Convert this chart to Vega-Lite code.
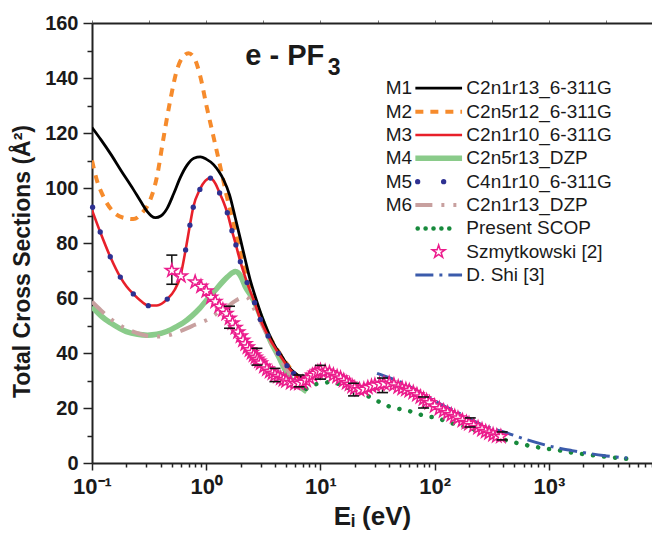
{
"$schema": "https://vega.github.io/schema/vega-lite/v6.json",
"width": 560, "height": 440,
"autosize": {"type": "none"},
"padding": {"left": 92, "top": 23, "right": 0, "bottom": 71},
"background": "white",
"config": {"view": {"stroke": null}, "font": "Liberation Sans",
  "axis": {"labelFont": "Liberation Sans", "titleFont": "Liberation Sans", "labelColor": "#1a1a1a", "titleColor": "#1a1a1a", "domainColor": "#222", "tickColor": "#222", "grid": false}},
"resolve": {"axis": {"x": "independent", "y": "independent"}},
"datasets": {
"curves": [
{"s":"M1","p":"C","x":0.1,"y":122},{"s":"M1","p":"C","x":0.12,"y":117.5},{"s":"M1","p":"C","x":0.145,"y":112.5},{"s":"M1","p":"C","x":0.18,"y":106.3},{"s":"M1","p":"C","x":0.23,"y":99.5},{"s":"M1","p":"C","x":0.27,"y":94.8},{"s":"M1","p":"C","x":0.305,"y":91.4},{"s":"M1","p":"C","x":0.33,"y":89.9},{"s":"M1","p":"C","x":0.36,"y":89.2},{"s":"M1","p":"C","x":0.4,"y":89.8},{"s":"M1","p":"C","x":0.455,"y":92.6},{"s":"M1","p":"C","x":0.52,"y":98},{"s":"M1","p":"C","x":0.59,"y":103.6},{"s":"M1","p":"C","x":0.68,"y":108.3},{"s":"M1","p":"C","x":0.78,"y":110.8},{"s":"M1","p":"C","x":0.89,"y":111.3},{"s":"M1","p":"C","x":1.0,"y":110.5},{"s":"M1","p":"C","x":1.16,"y":108.5},{"s":"M1","p":"C","x":1.3,"y":105.8},{"s":"M1","p":"C","x":1.42,"y":103},{"s":"M1","p":"C","x":1.6,"y":97.5},{"s":"M1","p":"C","x":1.8,"y":89},{"s":"M1","p":"C","x":1.99,"y":81.5},{"s":"M1","p":"C","x":2.2,"y":73.8},{"s":"M1","p":"C","x":2.43,"y":66.5},{"s":"M1","p":"C","x":2.69,"y":60.5},{"s":"M1","p":"C","x":3.08,"y":53.2},{"s":"M1","p":"C","x":3.52,"y":47.2},{"s":"M1","p":"C","x":4.03,"y":42.3},{"s":"M1","p":"C","x":4.61,"y":38.7},{"s":"M1","p":"C","x":5.27,"y":35},{"s":"M1","p":"C","x":6.03,"y":32.6},{"s":"M1","p":"C","x":7.0,"y":30.8},{"s":"M1","p":"C","x":7.6,"y":30.2},
{"s":"M1","p":"L","x":67.8,"y":136.3},{"s":"M1","p":"L","x":173.8,"y":136.3},
{"s":"M2","p":"C","x":0.1,"y":110},{"s":"M2","p":"C","x":0.11,"y":103},{"s":"M2","p":"C","x":0.126,"y":96.8},{"s":"M2","p":"C","x":0.154,"y":91.3},{"s":"M2","p":"C","x":0.196,"y":89},{"s":"M2","p":"C","x":0.23,"y":88.7},{"s":"M2","p":"C","x":0.274,"y":90.9},{"s":"M2","p":"C","x":0.323,"y":95.6},{"s":"M2","p":"C","x":0.37,"y":104},{"s":"M2","p":"C","x":0.42,"y":117.5},{"s":"M2","p":"C","x":0.485,"y":132},{"s":"M2","p":"C","x":0.555,"y":143},{"s":"M2","p":"C","x":0.62,"y":147.5},{"s":"M2","p":"C","x":0.7,"y":149},{"s":"M2","p":"C","x":0.78,"y":147.5},{"s":"M2","p":"C","x":0.89,"y":140.4},{"s":"M2","p":"C","x":1.01,"y":129.5},{"s":"M2","p":"C","x":1.16,"y":118.5},{"s":"M2","p":"C","x":1.33,"y":107.6},{"s":"M2","p":"C","x":1.52,"y":96.7},{"s":"M2","p":"C","x":1.73,"y":87.3},{"s":"M2","p":"C","x":1.99,"y":76.4},{"s":"M2","p":"C","x":2.29,"y":66.5},{"s":"M2","p":"C","x":2.69,"y":59},{"s":"M2","p":"C","x":2.98,"y":53.5},{"s":"M2","p":"C","x":3.48,"y":47},{"s":"M2","p":"C","x":4.3,"y":40.5},{"s":"M2","p":"C","x":5.1,"y":36},{"s":"M2","p":"C","x":5.83,"y":33},{"s":"M2","p":"C","x":6.6,"y":31},
{"s":"M2","p":"L","x":67.8,"y":127.7},{"s":"M2","p":"L","x":173.8,"y":127.7},
{"s":"M3","p":"C","x":0.1,"y":92},{"s":"M3","p":"C","x":0.118,"y":84},{"s":"M3","p":"C","x":0.1445,"y":75},{"s":"M3","p":"C","x":0.177,"y":67.6},{"s":"M3","p":"C","x":0.2,"y":64.3},{"s":"M3","p":"C","x":0.23,"y":61.5},{"s":"M3","p":"C","x":0.27,"y":58.8},{"s":"M3","p":"C","x":0.311,"y":57.3},{"s":"M3","p":"C","x":0.37,"y":57.3},{"s":"M3","p":"C","x":0.456,"y":59.6},{"s":"M3","p":"C","x":0.53,"y":63},{"s":"M3","p":"C","x":0.593,"y":67.8},{"s":"M3","p":"C","x":0.66,"y":77.5},{"s":"M3","p":"C","x":0.72,"y":86.5},{"s":"M3","p":"C","x":0.77,"y":93},{"s":"M3","p":"C","x":0.88,"y":99.5},{"s":"M3","p":"C","x":0.98,"y":102.6},{"s":"M3","p":"C","x":1.09,"y":103.6},{"s":"M3","p":"C","x":1.2,"y":101.7},{"s":"M3","p":"C","x":1.31,"y":98.2},{"s":"M3","p":"C","x":1.42,"y":94.8},{"s":"M3","p":"C","x":1.53,"y":91},{"s":"M3","p":"C","x":1.68,"y":84.5},{"s":"M3","p":"C","x":1.82,"y":79.3},{"s":"M3","p":"C","x":1.99,"y":73.2},{"s":"M3","p":"C","x":2.28,"y":65.6},{"s":"M3","p":"C","x":2.65,"y":58.3},{"s":"M3","p":"C","x":2.98,"y":52.2},{"s":"M3","p":"C","x":3.48,"y":46.2},{"s":"M3","p":"C","x":4.3,"y":39.9},{"s":"M3","p":"C","x":5.1,"y":35.4},{"s":"M3","p":"C","x":5.83,"y":32.6},{"s":"M3","p":"C","x":7.13,"y":29.6},{"s":"M3","p":"C","x":7.7,"y":29.2},
{"s":"M3","p":"L","x":67.8,"y":119.3},{"s":"M3","p":"L","x":173.8,"y":119.3},
{"s":"M4","p":"C","x":0.1,"y":56.8},{"s":"M4","p":"C","x":0.12,"y":53.5},{"s":"M4","p":"C","x":0.145,"y":51},{"s":"M4","p":"C","x":0.2,"y":47.8},{"s":"M4","p":"C","x":0.25,"y":46.8},{"s":"M4","p":"C","x":0.306,"y":46.5},{"s":"M4","p":"C","x":0.37,"y":46.8},{"s":"M4","p":"C","x":0.45,"y":47.8},{"s":"M4","p":"C","x":0.55,"y":49.6},{"s":"M4","p":"C","x":0.63,"y":51},{"s":"M4","p":"C","x":0.75,"y":53.5},{"s":"M4","p":"C","x":0.88,"y":56.3},{"s":"M4","p":"C","x":1.01,"y":59.3},{"s":"M4","p":"C","x":1.2,"y":62.8},{"s":"M4","p":"C","x":1.4,"y":66},{"s":"M4","p":"C","x":1.53,"y":67.6},{"s":"M4","p":"C","x":1.7,"y":69.2},{"s":"M4","p":"C","x":1.8,"y":69.6},{"s":"M4","p":"C","x":1.9,"y":69.2},{"s":"M4","p":"C","x":2.0,"y":68},{"s":"M4","p":"C","x":2.2,"y":64.1},{"s":"M4","p":"C","x":2.59,"y":59.3},{"s":"M4","p":"C","x":3.08,"y":52},{"s":"M4","p":"C","x":3.62,"y":44.7},{"s":"M4","p":"C","x":4.3,"y":38.7},{"s":"M4","p":"C","x":4.92,"y":33.8},{"s":"M4","p":"C","x":5.6,"y":30.2},{"s":"M4","p":"C","x":6.9,"y":27.2},{"s":"M4","p":"C","x":7.6,"y":25.9},
{"s":"M4","p":"L","x":67.8,"y":110.8},{"s":"M4","p":"L","x":173.8,"y":110.8},
{"s":"M6","p":"C","x":0.1,"y":58.7},{"s":"M6","p":"C","x":0.12,"y":55.5},{"s":"M6","p":"C","x":0.15,"y":52},{"s":"M6","p":"C","x":0.2,"y":48.8},{"s":"M6","p":"C","x":0.25,"y":47.2},{"s":"M6","p":"C","x":0.3,"y":46.3},{"s":"M6","p":"C","x":0.37,"y":46},{"s":"M6","p":"C","x":0.45,"y":46.3},{"s":"M6","p":"C","x":0.6,"y":48},{"s":"M6","p":"C","x":0.75,"y":49.8},{"s":"M6","p":"C","x":0.89,"y":51},{"s":"M6","p":"C","x":1.05,"y":52.3},{"s":"M6","p":"C","x":1.3,"y":55},{"s":"M6","p":"C","x":1.53,"y":56.7},{"s":"M6","p":"C","x":1.73,"y":58.5},{"s":"M6","p":"C","x":2.0,"y":60},{"s":"M6","p":"C","x":2.25,"y":60.4},{"s":"M6","p":"C","x":2.45,"y":58.5},{"s":"M6","p":"C","x":2.7,"y":55},{"s":"M6","p":"C","x":3.0,"y":51.3},{"s":"M6","p":"C","x":3.3,"y":47.8},{"s":"M6","p":"C","x":3.8,"y":42.5},{"s":"M6","p":"C","x":4.3,"y":38.8},{"s":"M6","p":"C","x":4.9,"y":35},{"s":"M6","p":"C","x":5.6,"y":32},{"s":"M6","p":"C","x":6.4,"y":29.5},{"s":"M6","p":"C","x":7.4,"y":27.3},
{"s":"M6","p":"L","x":67.8,"y":93.8},{"s":"M6","p":"L","x":173.8,"y":93.8},
{"s":"SCOP","p":"C","x":7.5,"y":27},{"s":"SCOP","p":"C","x":8.7,"y":28.4},{"s":"SCOP","p":"C","x":10.4,"y":29},{"s":"SCOP","p":"C","x":12.6,"y":29.5},{"s":"SCOP","p":"C","x":15.8,"y":28},{"s":"SCOP","p":"C","x":20,"y":26.5},{"s":"SCOP","p":"C","x":25,"y":24.7},{"s":"SCOP","p":"C","x":31.7,"y":22.5},{"s":"SCOP","p":"C","x":39.2,"y":20.7},{"s":"SCOP","p":"C","x":49.8,"y":19.6},{"s":"SCOP","p":"C","x":65,"y":18.5},{"s":"SCOP","p":"C","x":82,"y":17.1},{"s":"SCOP","p":"C","x":105,"y":16.4},{"s":"SCOP","p":"C","x":130,"y":14.9},{"s":"SCOP","p":"C","x":162,"y":13.8},{"s":"SCOP","p":"C","x":205,"y":12.7},{"s":"SCOP","p":"C","x":260,"y":10.9},{"s":"SCOP","p":"C","x":305,"y":9.8},{"s":"SCOP","p":"C","x":430,"y":8.2},{"s":"SCOP","p":"C","x":560,"y":7},{"s":"SCOP","p":"C","x":730,"y":6},{"s":"SCOP","p":"C","x":960,"y":5.2},{"s":"SCOP","p":"C","x":1260,"y":4.5},{"s":"SCOP","p":"C","x":1640,"y":3.7},{"s":"SCOP","p":"C","x":2160,"y":3.1},{"s":"SCOP","p":"C","x":2820,"y":2.5},{"s":"SCOP","p":"C","x":3680,"y":2},{"s":"SCOP","p":"C","x":4860,"y":1.5},
{"s":"SCOP","p":"L","x":71.0,"y":85.3},{"s":"SCOP","p":"L","x":157.1,"y":85.3},
{"s":"Shi","p":"C","x":31.3,"y":32.6},{"s":"Shi","p":"C","x":40,"y":31},{"s":"Shi","p":"C","x":53,"y":29},{"s":"Shi","p":"C","x":70,"y":26.2},{"s":"Shi","p":"C","x":91,"y":23.6},{"s":"Shi","p":"C","x":120,"y":20.8},{"s":"Shi","p":"C","x":157,"y":18.5},{"s":"Shi","p":"C","x":200,"y":16.2},{"s":"Shi","p":"C","x":250,"y":14.2},{"s":"Shi","p":"C","x":330,"y":12.4},{"s":"Shi","p":"C","x":430,"y":10.9},{"s":"Shi","p":"C","x":650,"y":8.4},{"s":"Shi","p":"C","x":1100,"y":5.8},{"s":"Shi","p":"C","x":1600,"y":4.5},{"s":"Shi","p":"C","x":2160,"y":3.6},{"s":"Shi","p":"C","x":3000,"y":2.7},{"s":"Shi","p":"C","x":4860,"y":1.8},
{"s":"Shi","p":"L","x":67.8,"y":68.4},{"s":"Shi","p":"L","x":173.8,"y":68.4}
],
"dots": [
{"x":0.1012,"y":93},{"x":0.118,"y":84},{"x":0.1445,"y":75},{"x":0.177,"y":67.6},{"x":0.23,"y":61.5},{"x":0.311,"y":57.2},{"x":0.456,"y":59.6},{"x":0.593,"y":67.8},{"x":0.66,"y":77.5},{"x":0.72,"y":86.5},{"x":0.77,"y":93},{"x":0.88,"y":99.5},{"x":1.09,"y":103.6},{"x":1.31,"y":98.2},{"x":1.53,"y":91},{"x":1.68,"y":84.5},{"x":1.82,"y":79.3},{"x":1.99,"y":73.2},{"x":2.28,"y":65.6},{"x":2.65,"y":58.3},{"x":2.98,"y":52.2},{"x":3.48,"y":46.2},{"x":4.3,"y":39.9},{"x":5.1,"y":35.4},{"x":5.83,"y":32.6},{"x":7.13,"y":29.6},
{"x":71.0,"y":102.3},{"x":119.9,"y":102.3}
],
"stars": [
{"x":0.5,"y":70},{"x":0.6,"y":68},{"x":0.8,"y":65.8},{"x":0.9,"y":64.2},{"x":1.0,"y":62.5},{"x":1.1,"y":60.2},{"x":1.2,"y":58.7},{"x":1.3,"y":57},{"x":1.4,"y":55.6},{"x":1.5,"y":54.3},{"x":1.6,"y":52.6},{"x":1.7,"y":50.9},{"x":1.8,"y":49.2},{"x":1.9,"y":47.6},{"x":2.0,"y":46.1},{"x":2.1,"y":44.6},{"x":2.2,"y":43.3},{"x":2.3,"y":42.1},{"x":2.4,"y":41.1},{"x":2.5,"y":40.1},{"x":2.6,"y":39.2},{"x":2.7,"y":38.4},{"x":2.8,"y":37.7},{"x":2.9,"y":37},{"x":3.0,"y":36.3},{"x":3.2,"y":35.1},{"x":3.4,"y":34.1},{"x":3.6,"y":33.3},{"x":3.8,"y":32.6},{"x":4.0,"y":32},{"x":4.25,"y":31.4},{"x":4.5,"y":30.8},{"x":4.75,"y":30.3},{"x":5.0,"y":29.8},{"x":5.5,"y":29.2},{"x":6.0,"y":28.9},{"x":6.5,"y":28.9},{"x":7.0,"y":29.3},{"x":7.5,"y":30},{"x":8.0,"y":31},{"x":8.5,"y":31.9},{"x":9.0,"y":32.6},{"x":9.5,"y":33.2},{"x":10,"y":33.6},{"x":11,"y":33.3},{"x":12,"y":32.8},{"x":13,"y":32},{"x":14,"y":31.4},{"x":15,"y":30.9},{"x":16,"y":30},{"x":17,"y":29.2},{"x":18,"y":28.6},{"x":19,"y":27.8},{"x":20,"y":27.2},{"x":22,"y":26.6},{"x":24,"y":26.8},{"x":26,"y":27.4},{"x":28,"y":27.9},{"x":30,"y":28.3},{"x":33,"y":28.6},{"x":36,"y":28.9},{"x":40,"y":29},{"x":44,"y":28.4},{"x":48,"y":27.6},{"x":52,"y":27.1},{"x":56,"y":26.7},{"x":60,"y":26.3},{"x":65,"y":25.6},{"x":70,"y":24.8},{"x":75,"y":24},{"x":80,"y":23.3},{"x":85,"y":22.6},{"x":90,"y":21.9},{"x":100,"y":20.7},{"x":110,"y":19.7},{"x":120,"y":18.9},{"x":130,"y":18.2},{"x":140,"y":17.5},{"x":150,"y":16.9},{"x":160,"y":16.3},{"x":175,"y":15.4},{"x":190,"y":14.7},{"x":200,"y":14.3},{"x":220,"y":13.5},{"x":240,"y":12.8},{"x":260,"y":12.1},{"x":280,"y":11.4},{"x":300,"y":10.9},{"x":325,"y":10.3},{"x":350,"y":9.8},{"x":380,"y":9.6},
{"x":108.4,"y":76.8}
],
"errs": [
{"x":0.5,"lo":65,"hi":75.6},{"x":1.6,"lo":49,"hi":57},{"x":2.78,"lo":35.6,"hi":41.7},{"x":4.0,"lo":29.6,"hi":34.4},{"x":6.5,"lo":27.7,"hi":32},{"x":10,"lo":30.5,"hi":35.5},{"x":19.5,"lo":24.4,"hi":29},{"x":35,"lo":25.6,"hi":30.9},{"x":80,"lo":20,"hi":24},{"x":205,"lo":13.1,"hi":16.4},{"x":390,"lo":8.4,"hi":11.3}
],
"mlab": [
{"t":"M1","x":63.4,"y":136.3},{"t":"M2","x":63.4,"y":127.7},{"t":"M3","x":63.4,"y":119.3},{"t":"M4","x":63.4,"y":110.8},{"t":"M5","x":63.4,"y":102.3},{"t":"M6","x":63.4,"y":93.8}
],
"names": [
{"t":"C2n1r13_6-311G","x":189.5,"y":136.3},{"t":"C2n5r12_6-311G","x":189.5,"y":127.7},{"t":"C2n1r10_6-311G","x":189.5,"y":119.3},{"t":"C2n5r13_DZP","x":189.5,"y":110.8},{"t":"C4n1r10_6-311G","x":189.5,"y":102.3},{"t":"C2n1r13_DZP","x":189.5,"y":93.8},{"t":"Present SCOP","x":189.5,"y":85.3},{"t":"Szmytkowski [2]","x":189.5,"y":76.8},{"t":"D. Shi [3]","x":189.5,"y":68.4}
],
"ttl": [{"t":"e - PF","x":2.2,"y":144.7}],
"sub": [{"t":"3","x":11.6,"y":141.1}]
},
"layer": [
{"data": {"name": "curves"}, "transform": [{"filter": "datum.s === 'M4'"}],
 "mark": {"type": "line", "color": "#8acb8a", "strokeWidth": 5.5, "interpolate": "monotone", "clip": true},
 "encoding": {
  "x": {"field": "x", "type": "quantitative", "scale": {"type": "log", "domain": [0.1, 8000], "nice": false},
        "axis": {"orient": "bottom", "title": "Eᵢ (eV)", "titleFontSize": 26, "titleFontWeight": "bold", "titlePadding": 6,
                 "values": [0.1,0.2,0.3,0.4,0.5,0.6,0.7,0.8,0.9,1,2,3,4,5,6,7,8,9,10,20,30,40,50,60,70,80,90,100,200,300,400,500,600,700,800,900,1000,2000,3000,4000,5000,6000,7000,8000],
                 "labelExpr": "datum.value === 0.1 ? '10⁻¹' : datum.value === 1 ? '10⁰' : datum.value === 10 ? '10¹' : datum.value === 100 ? '10²' : datum.value === 1000 ? '10³' : ''",
                 "labelFontSize": 22, "labelFontWeight": "bold", "labelPadding": 6, "labelOverlap": false, "labelFlush": false,
                 "domainWidth": 2, "tickWidth": 1.5,
                 "tickSize": {"condition": {"test": "datum.value === 0.1 || datum.value === 1 || datum.value === 10 || datum.value === 100 || datum.value === 1000", "value": 7}, "value": 4}}},
  "y": {"field": "y", "type": "quantitative", "scale": {"domain": [0, 160], "nice": false, "zero": false},
        "axis": {"orient": "left", "title": "Total Cross Sections (Å²)", "titleFontSize": 23, "titleFontWeight": "bold", "titlePadding": 10, "titleY": 238,
                 "values": [0,10,20,30,40,50,60,70,80,90,100,110,120,130,140,150,160],
                 "labelExpr": "datum.value % 20 === 0 ? datum.label : ''",
                 "labelFontSize": 20, "labelFontWeight": "bold", "labelPadding": 5, "labelOverlap": false,
                 "domainWidth": 2, "tickWidth": 1.5,
                 "tickSize": {"condition": {"test": "datum.value % 20 === 0", "value": 9}, "value": 5}}},
  "detail": {"field": "p"}}},
{"data": {"name": "curves"}, "transform": [{"filter": "datum.s === 'M6'"}],
 "mark": {"type": "line", "color": "#c8a09f", "strokeWidth": 4, "strokeDash": [17, 9, 3, 9, 3, 9], "interpolate": "monotone", "clip": true},
 "encoding": {"x": {"field": "x", "type": "quantitative", "axis": null}, "y": {"field": "y", "type": "quantitative", "axis": null}, "detail": {"field": "p"}}},
{"data": {"name": "curves"}, "transform": [{"filter": "datum.s === 'M2'"}],
 "mark": {"type": "line", "color": "#f68b2c", "strokeWidth": 4, "strokeDash": [8, 7], "interpolate": "monotone", "clip": true},
 "encoding": {"x": {"field": "x", "type": "quantitative", "axis": null}, "y": {"field": "y", "type": "quantitative", "axis": null}, "detail": {"field": "p"}}},
{"data": {"name": "curves"}, "transform": [{"filter": "datum.s === 'M1'"}],
 "mark": {"type": "line", "color": "#000000", "strokeWidth": 2.8, "interpolate": "monotone", "clip": true},
 "encoding": {"x": {"field": "x", "type": "quantitative", "axis": null}, "y": {"field": "y", "type": "quantitative", "axis": null}, "detail": {"field": "p"}}},
{"data": {"name": "curves"}, "transform": [{"filter": "datum.s === 'M3'"}],
 "mark": {"type": "line", "color": "#e8202a", "strokeWidth": 2.6, "interpolate": "monotone", "clip": true},
 "encoding": {"x": {"field": "x", "type": "quantitative", "axis": null}, "y": {"field": "y", "type": "quantitative", "axis": null}, "detail": {"field": "p"}}},
{"data": {"name": "dots"},
 "mark": {"type": "point", "shape": "circle", "filled": true, "color": "#2e3192", "size": 28, "opacity": 1},
 "encoding": {"x": {"field": "x", "type": "quantitative", "axis": null}, "y": {"field": "y", "type": "quantitative", "axis": null}}},
{"data": {"name": "curves"}, "transform": [{"filter": "datum.s === 'SCOP' && datum.p === 'C'"}],
 "mark": {"type": "line", "color": "#178a3c", "strokeWidth": 4.5, "strokeCap": "round", "strokeDash": [0.1, 11], "interpolate": "monotone", "clip": true},
 "encoding": {"x": {"field": "x", "type": "quantitative",
        "axis": {"orient": "top", "title": null, "labels": false, "domainWidth": 2, "tickWidth": 1, "tickSize": 3, "tickColor": "#777",
                 "values": [0.1, 0.3162, 1, 3.162, 10, 31.62, 100, 316.2, 1000, 3162]}},
  "y": {"field": "y", "type": "quantitative", "axis": null}}},
{"data": {"name": "curves"}, "transform": [{"filter": "datum.s === 'SCOP' && datum.p === 'L'"}],
 "mark": {"type": "line", "color": "#178a3c", "strokeWidth": 4.5, "strokeCap": "round", "strokeDash": [0.1, 7.8]},
 "encoding": {"x": {"field": "x", "type": "quantitative", "axis": null}, "y": {"field": "y", "type": "quantitative", "axis": null}}},
{"data": {"name": "curves"}, "transform": [{"filter": "datum.s === 'Shi'"}],
 "mark": {"type": "line", "color": "#3b5bab", "strokeWidth": 3, "strokeDash": [18, 6, 3, 6], "interpolate": "monotone", "clip": true},
 "encoding": {"x": {"field": "x", "type": "quantitative", "axis": null}, "y": {"field": "y", "type": "quantitative", "axis": null}, "detail": {"field": "p"}}},
{"data": {"name": "errs"},
 "mark": {"type": "rule", "color": "#111", "strokeWidth": 1.5},
 "encoding": {"x": {"field": "x", "type": "quantitative", "axis": null}, "y": {"field": "lo", "type": "quantitative", "axis": null}, "y2": {"field": "hi"}}},
{"data": {"name": "stars"},
 "mark": {"type": "point", "shape": "M0,-1L0.2245,-0.309L0.951,-0.309L0.363,0.118L0.588,0.809L0,0.382L-0.588,0.809L-0.363,0.118L-0.951,-0.309L-0.2245,-0.309Z", "filled": false, "fill": "white", "fillOpacity": 1, "stroke": "#ec1c8c", "strokeWidth": 1.5, "size": 185, "opacity": 1},
 "encoding": {"x": {"field": "x", "type": "quantitative", "axis": null}, "y": {"field": "y", "type": "quantitative", "axis": null}}},
{"data": {"name": "errs"},
 "mark": {"type": "tick", "orient": "horizontal", "color": "#111", "size": 11, "thickness": 1.6, "opacity": 1},
 "encoding": {"x": {"field": "x", "type": "quantitative", "axis": null}, "y": {"field": "lo", "type": "quantitative", "axis": null}}},
{"data": {"name": "errs"},
 "mark": {"type": "tick", "orient": "horizontal", "color": "#111", "size": 11, "thickness": 1.6, "opacity": 1},
 "encoding": {"x": {"field": "x", "type": "quantitative", "axis": null}, "y": {"field": "hi", "type": "quantitative", "axis": null}}},
{"data": {"name": "mlab"},
 "mark": {"type": "text", "align": "right", "baseline": "middle", "fontSize": 19, "color": "#1a1a1a", "font": "Liberation Sans"},
 "encoding": {"x": {"field": "x", "type": "quantitative", "axis": null}, "y": {"field": "y", "type": "quantitative", "axis": null}, "text": {"field": "t"}}},
{"data": {"name": "names"},
 "mark": {"type": "text", "align": "left", "baseline": "middle", "fontSize": 19, "color": "#1a1a1a", "font": "Liberation Sans"},
 "encoding": {"x": {"field": "x", "type": "quantitative", "axis": null}, "y": {"field": "y", "type": "quantitative", "axis": null}, "text": {"field": "t"}}},
{"data": {"name": "ttl"},
 "mark": {"type": "text", "align": "left", "baseline": "alphabetic", "fontSize": 29, "fontWeight": "bold", "color": "#1a1a1a", "font": "Liberation Sans"},
 "encoding": {"x": {"field": "x", "type": "quantitative", "axis": null}, "y": {"field": "y", "type": "quantitative", "axis": null}, "text": {"field": "t"}}},
{"data": {"name": "sub"},
 "mark": {"type": "text", "align": "left", "baseline": "alphabetic", "fontSize": 23, "fontWeight": "bold", "color": "#1a1a1a", "font": "Liberation Sans"},
 "encoding": {"x": {"field": "x", "type": "quantitative", "axis": null}, "y": {"field": "y", "type": "quantitative", "axis": null}, "text": {"field": "t"}}}
]
}
